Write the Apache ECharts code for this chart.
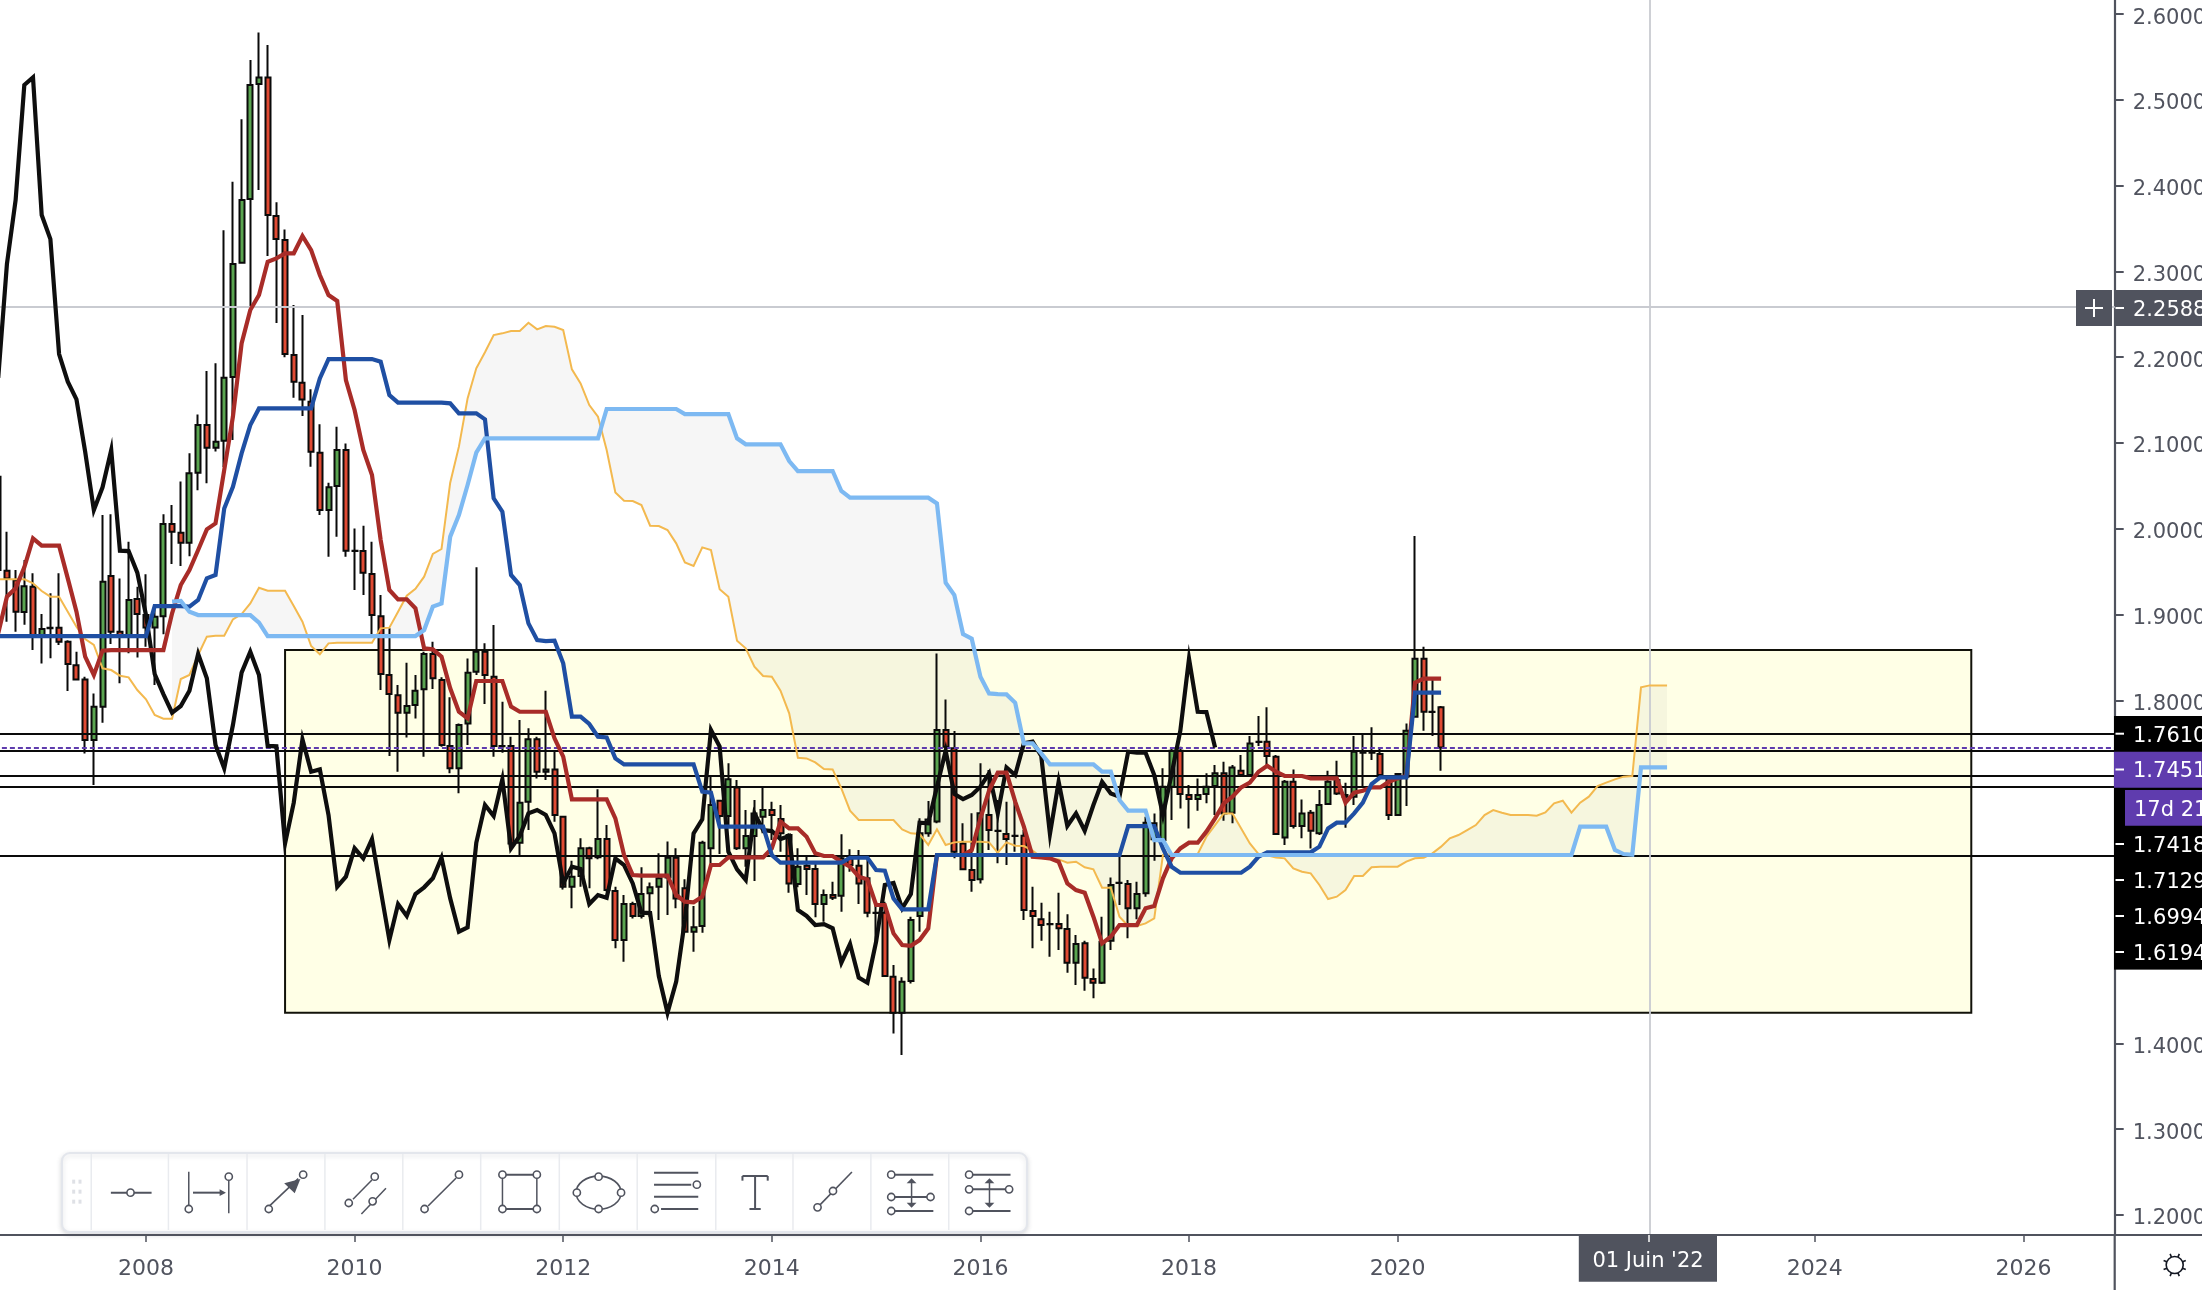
<!DOCTYPE html>
<html><head><meta charset="utf-8">
<style>html,body{margin:0;padding:0;background:#fff}#c{width:2202px;height:1290px}</style>
<script src="https://cdn.jsdelivr.net/npm/echarts@6/dist/echarts.min.js"></script>
</head><body><div id="c"></div>
<script>
// Monthly bars: first bar = Aug 2006, last bar = Jun 2020; axis runs on to Mar 2026 region
const firstYear = 2006, firstMonth = 8, categoryCount = 244;
const xTickYears = ['2008','2010','2012','2014','2016','2018','2020','2024','2026'];
const yTickValues = [2.6,2.5,2.4,2.3,2.2,2.1,2.0,1.9,1.8,1.4,1.3,1.2];
const candleOpen = [2.0607,1.951,1.94,1.903,1.9325,1.875,1.8847,1.8847,1.8684,1.841,1.8244,1.7537,1.7926,1.945,1.88,1.874,1.918,
1.8994,1.885,1.898,2.0055,1.9954,1.9838,2.0653,2.121,2.0945,2.1026,2.177,2.31,2.3844,2.5184,2.5262,2.3645,2.3366,2.2025,2.1702,2.148,
2.0886,2.0218,2.0498,2.0917,1.9744,1.974,1.9472,1.898,1.8295,1.806,1.7856,1.7945,1.8128,1.854,1.8237,1.7468,1.7207,1.7731,1.8334,1.8567,
1.8275,1.7468,1.7468,1.634,1.6818,1.7545,1.7168,1.7195,
1.6643,1.5827,1.5952,1.6275,1.617,1.6383,1.5777,1.5206,1.5625,1.5486,
1.575,1.5827,1.5936,1.6166,1.5808,1.5303,1.5369,1.6275,1.683,1.6651,
1.6985,1.6275,1.6418,1.6643,1.6721,1.6616,1.643,1.5858,1.6072,1.6033,
1.5625,1.573,1.5723,1.6158,1.6072,1.5925,1.5525,1.5525,1.4778,1.4358,
1.4727,1.5486,1.6449,1.6586,1.7654,1.744,1.6332,1.6022,1.5914,1.6663,
1.648,1.6441,1.6422,1.6422,1.5544,1.5447,1.5393,1.5393,1.5334,1.4941,
1.5167,1.4751,1.4708,1.5198,1.5874,1.5859,1.5575,1.575,1.6379,1.6371,
1.6993,1.7413,1.6896,1.6849,1.6908,1.7001,1.7149,1.669,1.718,1.7129,
1.7514,1.7518,1.7343,1.6402,1.7051,1.6535,1.669,1.6449,1.6791,1.7071,
1.6896,1.6877,1.7393,1.7393,1.7374,1.711,1.6663,1.711,1.7809,1.8485,
1.7867,1.7918];
const candleClose = [1.952,1.942,1.9033,1.933,1.876,1.883,1.884,1.8684,1.8423,1.8244,1.7537,1.7926,1.9383,1.88,1.874,1.917,1.9006,
1.885,1.8975,2.0055,1.9965,1.9838,2.0646,2.121,2.0945,2.1015,2.176,2.3086,2.3832,2.5173,2.5262,2.3657,2.3377,2.2037,2.1714,2.1508,2.0899,
2.0218,2.0483,2.0917,1.9744,1.974,1.9488,1.8994,1.8307,1.8073,1.7856,1.7934,1.8112,1.854,1.8256,1.7479,1.7207,1.7712,1.8322,1.8567,1.8295,
1.7468,1.7464,1.6332,1.6807,1.7545,1.7168,1.7195,1.6663,
1.5827,1.5944,1.6275,1.6158,1.6383,1.5789,1.5206,1.5625,1.5486,1.5742,
1.582,1.5925,1.6166,1.5691,1.5303,1.5354,1.634,1.678,1.6651,1.7079,
1.6275,1.6418,1.6682,1.6721,1.6663,1.6449,1.5866,1.6061,1.6033,1.5625,
1.573,1.5699,1.6158,1.608,1.5866,1.5525,1.552,1.4786,1.4358,1.472,
1.5439,1.6449,1.6612,1.7654,1.746,1.6236,1.603,1.5906,1.6683,1.6488,
1.6476,1.6383,1.6418,1.5556,1.5486,1.5381,1.539,1.5342,1.4941,1.5159,
1.4767,1.4708,1.5186,1.5847,1.587,1.5575,1.5742,1.6574,1.6566,1.6993,
1.7413,1.6908,1.6849,1.6896,1.6993,1.7149,1.6682,1.7218,1.7129,1.7498,
1.7518,1.7351,1.6441,1.7051,1.6535,1.6682,1.648,1.678,1.7051,1.6915,
1.6877,1.7401,1.7389,1.739,1.7129,1.6663,1.7141,1.7646,1.8485,1.7867,
1.7863,1.7451];
const candleLow = [1.95,1.8917,1.88,1.888,1.8586,1.843,1.849,1.8645,1.811,1.823,1.738,1.7013,1.774,1.8656,1.82,1.855,1.85,
1.8625,1.818,1.877,1.959,1.9566,1.968,2.045,2.053,2.09,2.072,2.1034,2.309,2.255,2.395,2.3179,2.24,2.1998,2.1528,2.1314,2.0723,
2.016,1.9674,1.9907,1.9674,1.9286,1.9227,1.877,1.812,1.7351,1.7168,1.7568,1.7789,1.7343,1.8132,1.746,1.7149,1.6916,1.748,1.8295,1.7957,
1.7343,1.739,1.6332,1.6196,1.6488,1.709,1.707,1.6585,
1.5796,1.5575,1.5827,1.5808,1.6147,1.577,1.5109,1.4953,1.5458,1.5458,
1.5478,1.5439,1.5498,1.5575,1.5291,1.507,1.5291,1.61,1.6209,1.6527,
1.6255,1.6061,1.5893,1.6449,1.6372,1.6236,1.5758,1.582,1.573,1.547,
1.5419,1.5672,1.5536,1.6002,1.5625,1.547,1.5128,1.478,1.4117,1.3865,
1.47,1.5303,1.641,1.6566,1.744,1.6158,1.6022,1.5769,1.5866,1.6255,
1.61,1.608,1.6236,1.5439,1.5109,1.5198,1.5012,1.5089,1.4825,1.4681,
1.4615,1.4526,1.4693,1.5089,1.5614,1.5225,1.5447,1.5711,1.6131,1.6364,
1.6605,1.674,1.6507,1.6713,1.6799,1.6663,1.6597,1.6566,1.711,1.711,
1.7467,1.7246,1.644,1.6313,1.6507,1.6391,1.6274,1.643,1.678,1.6896,
1.6515,1.678,1.6985,1.7304,1.711,1.6605,1.6651,1.6767,1.7801,1.7646,
1.7584,1.7179];
const candleHigh = [2.0607,1.9966,1.952,1.9636,1.948,1.9006,1.9247,1.948,1.87,1.8567,1.8276,1.808,2.016,2.017,1.942,1.985,1.9325,
1.947,1.911,2.017,2.0277,2.055,2.088,2.1333,2.1838,2.1928,2.348,2.4046,2.4773,2.5464,2.5786,2.5639,2.3805,2.349,2.2608,2.2492,2.1625,
2.1217,2.0537,2.119,2.0995,2.0004,2.0035,1.985,1.9227,1.8839,1.8178,1.8439,1.8295,1.8567,1.8684,1.8268,1.8035,1.7731,1.8489,1.955,1.8664,
1.8878,1.7984,1.7576,1.777,1.7673,1.7576,1.8112,1.7401,
1.665,1.6131,1.6392,1.6294,1.6962,1.6546,1.5827,1.573,1.5653,1.6053,
1.5875,1.6217,1.6353,1.6275,1.5913,1.5602,1.6364,1.711,1.6838,1.7265,
1.707,1.6721,1.6838,1.6985,1.6818,1.678,1.6449,1.6275,1.6178,1.6119,
1.5796,1.5886,1.6438,1.6263,1.6255,1.617,1.5614,1.5653,1.4914,1.4771,
1.5478,1.6624,1.6826,1.8547,1.8011,1.7642,1.6566,1.6683,1.7265,1.7187,
1.6838,1.6818,1.6838,1.6488,1.5827,1.5641,1.5536,1.5758,1.5505,1.5264,
1.5198,1.4875,1.5477,1.5936,1.6176,1.5905,1.5885,1.6643,1.6682,1.7207,
1.744,1.746,1.7012,1.709,1.7149,1.7246,1.7285,1.7246,1.7362,1.7584,
1.7817,1.7918,1.7362,1.7071,1.7195,1.6845,1.6721,1.6954,1.718,1.7296,
1.704,1.7584,1.7596,1.7685,1.744,1.7129,1.7149,1.7731,1.9915,1.8625,
1.8237,1.7934];
// Black lagging line: bars 0 .. 140
const laggingLine = [2.176,2.3086,2.3832,2.5173,2.5262,2.3657,2.3377,2.2037,2.1714,2.1508,2.0899,
2.0218,2.0483,2.0917,1.9744,1.974,1.9488,1.8994,1.8307,1.8073,1.7856,1.7934,1.8112,1.854,1.8256,1.7479,1.7207,1.7712,1.8322,1.8567,1.8295,
1.7468,1.7464,1.6332,1.6807,1.7545,1.7168,1.7195,1.6663,
1.5827,1.5944,1.6275,1.6158,1.6383,1.5789,1.5206,1.5625,1.5486,1.5742,
1.582,1.5925,1.6166,1.5691,1.5303,1.5354,1.634,1.678,1.6651,1.7079,
1.6275,1.6418,1.6682,1.6721,1.6663,1.6449,1.5866,1.6061,1.6033,1.5625,
1.573,1.5699,1.6158,1.608,1.5866,1.5525,1.552,1.4786,1.4358,1.472,
1.5439,1.6449,1.6612,1.7654,1.746,1.6236,1.603,1.5906,1.6683,1.6488,
1.6476,1.6383,1.6418,1.5556,1.5486,1.5381,1.539,1.5342,1.4941,1.5159,
1.4767,1.4708,1.5186,1.5847,1.587,1.5575,1.5742,1.6574,1.6566,1.6993,
1.7413,1.6908,1.6849,1.6896,1.6993,1.7149,1.6682,1.7218,1.7129,1.7498,
1.7518,1.7351,1.6441,1.7051,1.6535,1.6682,1.648,1.678,1.7051,1.6915,
1.6877,1.7401,1.7389,1.739,1.7129,1.6663,1.7141,1.7646,1.8485,1.7867,
1.7863,1.7451];
// Red conversion line: bars 0 .. 166
const conversionLine = [1.8781,1.9208,1.9305,1.955,1.9888,1.9803,1.9803,1.9803,1.9422,1.9033,1.8509,1.8295,1.8579,
1.8586,1.8586,1.8586,1.8586,1.8586,1.8586,1.8586,1.9014,1.9344,1.9519,1.9752,1.9993,2.0063,2.0685,2.1307,2.2161,2.255,2.2725,2.3113,2.3152,
2.3211,2.3211,2.3413,2.3249,2.2958,2.2725,2.2655,2.1734,2.1384,2.0918,2.0626,1.9868,1.9286,1.9177,1.9177,1.9072,1.8606,1.8594,1.8509,1.814,
1.7867,1.779,1.8225,1.8225,1.8225,1.8225,1.7926,1.7867,1.7867,1.7867,1.7867,1.7557,1.7343,1.6846,1.6846,1.6846,1.6846,1.6846,1.6624,1.6197,
1.5963,1.5956,1.5956,1.5956,1.5956,1.573,1.5653,1.5645,1.5711,1.608,1.608,1.6169,1.6169,1.6169,1.6169,1.6169,1.6274,1.6585,1.6507,1.6507,
1.641,1.6216,1.6185,1.6185,1.6119,1.606,1.5944,1.5913,1.5614,1.5614,1.5283,1.5147,1.5139,1.5205,1.5342,1.6197,1.6197,1.6197,1.6197,1.6255,
1.6624,1.6947,1.7156,1.7156,1.6818,1.6527,1.6177,1.6169,1.6158,1.6119,1.5866,1.5788,1.5757,1.5478,1.5167,1.5245,1.538,1.538,1.538,1.5575,
1.5602,1.5925,1.6158,1.6274,1.634,1.634,1.6469,1.6624,1.6799,1.6877,1.6985,1.704,1.7168,1.7238,1.7168,1.7118,1.7118,1.7118,1.709,1.709,
1.709,1.709,1.6807,1.6923,1.6946,1.6985,1.6985,1.7051,1.709,1.7118,1.8206,1.8252,1.8252,1.8252];
// Blue base line: bars 0 .. 166
const baseLine = [1.8749,1.8749,1.8749,1.8749,1.8749,1.8749,1.8749,1.8749,1.8749,1.8749,1.8749,1.8749,1.8749,1.8749,1.8749,1.8749,1.8749,1.8749,
1.9099,1.9099,1.9099,1.9099,1.9092,1.9169,1.9422,1.9461,2.0237,2.049,2.0879,2.1209,2.1403,2.1403,2.1403,2.1403,2.1403,2.1403,2.1403,
2.1753,2.1978,2.1978,2.1978,2.1978,2.1978,2.1978,2.1947,2.1559,2.147,2.147,2.147,2.147,2.147,2.147,2.1462,2.1345,2.1345,2.1345,2.1275,
2.0354,2.0199,1.9461,1.9344,1.8897,1.8703,1.8691,1.8695,1.8431,1.781,1.781,1.7724,1.7576,1.7568,1.7323,
1.7253,1.7253,1.7253,1.7253,1.7253,1.7253,1.7253,1.7253,1.7253,1.6935,1.6923,1.6527,1.6527,1.6527,1.6527,1.6527,1.6527,1.6197,
1.6107,1.6107,1.6107,1.6107,1.6107,1.6107,1.6107,1.6107,1.6165,1.6165,1.6165,1.6022,1.6014,1.5691,1.5563,1.5563,1.5563,1.5563,1.6197,
1.6197,1.6197,1.6197,1.6197,1.6197,1.6197,1.6197,1.6197,1.6197,1.6197,1.6197,1.6197,1.6197,1.6197,1.6197,1.6197,1.6197,1.6197,1.6197,1.6197,1.6197,
1.6534,1.6534,1.6534,1.6534,1.6274,1.606,1.599,1.599,1.599,1.599,1.599,1.599,1.599,1.599,1.606,1.6177,1.6228,1.6228,1.6228,1.6228,1.6228,1.6228,
1.6294,1.6507,1.6574,1.6574,1.6682,1.6807,1.7024,1.7102,1.7102,1.7102,1.7102,1.8089,1.8089,1.8089,1.8089];
// Light blue cloud edge: starts at bar 20, runs 26 bars beyond the last candle
const cloudEdgeBlue = [1.915,1.9158,1.9033,1.8994,1.8994,1.8994,1.8994,1.8994,1.8994,1.8994,1.8905,
1.8749,1.8749,1.8749,1.8749,1.8749,1.8749,1.8749,1.8749,1.8749,1.8749,1.8749,1.8749,1.8749,1.8749,1.8749,1.8749,1.8749,1.8749,
1.8819,1.9092,1.913,1.9908,2.0159,2.051,2.0887,
2.1054,2.1054,2.1054,2.1054,2.1054,2.1054,2.1054,2.1054,2.1054,2.1054,2.1054,2.1054,2.1054,2.1054,
2.1396,2.1396,2.1396,2.1396,2.1396,2.1396,2.1396,2.1396,2.1396,
2.1337,2.1337,2.1337,2.1337,2.1337,2.1337,2.1054,2.0984,2.0984,2.0984,2.0984,2.0984,2.0789,
2.0673,2.0673,2.0673,2.0673,2.0673,2.044,2.0362,2.0362,2.0362,2.0362,2.0362,2.0362,2.0362,2.0362,2.0362,2.0362,
2.0296,1.9371,1.9227,1.8773,1.8718,1.8276,1.8081,1.8073,1.8069,1.7972,1.7498,1.7498,1.7382,
1.7253,1.7253,1.7253,1.7253,1.7253,1.7253,1.7168,1.7168,1.6838,1.6713,1.6713,1.6713,1.6371,1.6371,
1.6197,1.6197,1.6197,1.6197,1.6197,1.6197,1.6197,1.6197,1.6197,1.6197,1.6197,1.6197,1.6197,1.6197,1.6197,1.6197,1.6197,1.6197,1.6197,1.6197,
1.6197,1.6197,1.6197,1.6197,1.6197,1.6197,1.6197,1.6197,1.6197,1.6197,1.6197,1.6197,1.6197,1.6197,1.6197,1.6197,1.6197,1.6197,1.6197,1.6197,
1.6197,1.6197,1.6197,1.6197,1.6197,1.6197,1.6197,
1.6527,1.6527,1.6527,1.6527,1.6255,1.6208,1.62,1.7219,1.7219,1.7219,1.7219];
// Orange cloud edge: bars 0 .. 192
const cloudEdgeOrange = [1.941,1.941,1.941,1.941,1.9364,1.9274,1.9208,1.9208,1.9033,1.8858,1.8715,1.8645,1.8373,1.8353,1.8287,1.8268,1.812,
1.8011,1.7829,1.7786,1.7786,1.8248,1.8295,1.8528,1.8742,1.8753,1.8753,1.8944,1.9006,1.913,1.9313,1.9278,1.9278,1.9278,1.9099,1.8917,1.8633,
1.8536,1.8664,1.8672,1.8672,1.8672,1.8672,1.8672,1.8839,1.8847,1.9033,1.922,1.9301,1.9441,1.9706,1.9764,2.0537,2.0957,2.152,2.187,2.2057,
2.2258,2.2278,2.2305,2.2305,2.2402,2.2324,2.2363,2.2355,2.2316,2.1858,2.1695,2.1442,2.1306,2.0918,2.0424,2.0327,2.0323,2.0276,
2.0036,2.0032,1.9985,1.983,1.9608,1.9566,1.9783,1.9752,1.9294,1.9208,1.8695,1.8606,1.8392,1.8283,1.8276,1.8112,
1.7848,1.7331,1.7323,1.7277,1.7199,1.7195,1.6974,1.6714,1.6605,1.6605,1.6605,1.6605,1.6605,1.6496,1.6449,1.6441,1.6314,1.6496,1.6314,1.6344,
1.6352,1.6352,1.6352,1.6344,1.6224,1.6344,1.6305,1.6301,1.6247,1.6169,1.6154,1.6146,1.6107,1.6119,1.6053,1.603,1.5815,1.5815,1.5478,1.5369,
1.5369,1.54,1.5458,1.6197,1.6208,1.6197,1.6208,1.6208,1.641,1.6546,1.6682,1.6682,1.6507,1.6332,1.6208,1.6193,1.6169,1.6158,1.6041,1.6002,
1.5983,1.5847,1.5684,1.5711,1.5789,1.5952,1.5952,1.6053,1.606,1.606,1.606,1.6119,1.6158,1.6166,1.6216,1.6294,1.6391,1.643,1.6488,1.6546,
1.6663,1.6721,1.669,1.6663,1.6663,1.6663,1.6655,1.6694,1.6799,1.683,1.669,1.6807,1.6877,1.7001,1.704,1.7079,1.711,1.7118,1.8151,1.8174,1.8174,1.8174];
const cloudBlueStart = 20;
const laggingLen = 141, barLen = 167, cloudEnd = 193;
const levelLines = [1.7611,1.7409,1.7121,1.6993,1.6188];
const lastPrice = 1.7451;
const crossPrice = 2.2588, crossPriceLabel = '2.2588';
const crossDate = "2022-06", crossDateLabel = "01 Juin '22";
const boxTop = 1.8586, boxBottom = 1.4358, boxStart = '2009-05', boxEndIndex = 226.8;
const priceTags = [['1.7610',733.7],['1.7418',844],['1.7129',880],['1.6994',916],['1.6194',952]];

const check=(n,a,l)=>{ if(a.length!==l) throw new Error(n+' length '+a.length+' expected '+l); };
check('open',candleOpen,barLen);check('close',candleClose,barLen);check('low',candleLow,barLen);check('high',candleHigh,barLen);
check('lag',laggingLine,laggingLen);check('conv',conversionLine,barLen);check('base',baseLine,barLen);
check('orange',cloudEdgeOrange,cloudEnd);check('blue',cloudEdgeBlue,cloudEnd-cloudBlueStart);

const categories=[];
for(let k=0,y=firstYear,m=firstMonth;k<categoryCount;k++){categories.push(y+'-'+String(m).padStart(2,'0'));m++;if(m>12){m=1;y++;}}
const candles=candleOpen.map((o,k)=>[o,candleClose[k],candleLow[k],candleHigh[k]]);
const pad=(start,arr)=>{const r=new Array(start).fill(null);return r.concat(arr);};
const blueFull=pad(cloudBlueStart,cloudEdgeBlue);

const FONT='"DejaVu Sans", sans-serif';
const AX='#50535e';
const isTick=(idx,val)=>val.endsWith('-01')&&xTickYears.includes(val.slice(0,4));

const lineS=(name,data,color,width,z,extra)=>Object.assign({type:'line',name,data,showSymbol:false,symbol:'none',silent:true,z,
  animation:false,lineStyle:{color,width,join:'miter',miterLimit:12,cap:'butt'}},extra||{});

/* ---- UI graphic (toolbar, tags) ---- */
const zx=z=>z/1.425, zy=z=>1130+z/3;
const uiEls=[];
const L=(a,b,c,d,w)=>uiEls.push({type:'line',silent:true,z:200,shape:{x1:zx(a),y1:zy(b),x2:zx(c),y2:zy(d)},style:{stroke:AX,lineWidth:w||2}});
const P=(a,b)=>uiEls.push({type:'circle',silent:true,z:201,shape:{cx:zx(a),cy:zy(b),r:3.6},style:{fill:'#fff',stroke:AX,lineWidth:1.6}});
const ARR=(pts)=>uiEls.push({type:'polygon',silent:true,z:201,shape:{points:pts.map(p=>[zx(p[0]),zy(p[1])])},style:{fill:AX}});
uiEls.push({type:'rect',silent:true,z:199,shape:{x:62,y:1153,width:965,height:79,r:8},style:{fill:'#fff',stroke:'#e3e6ec',lineWidth:2,shadowColor:'rgba(80,83,94,0.18)',shadowBlur:5,shadowOffsetY:2}});
[130,240,352,463,574,685,797,908,1020,1130,1241,1352].forEach(z=>uiEls.push({type:'line',silent:true,z:200,shape:{x1:zx(z),y1:1154,x2:zx(z),y2:1230},style:{stroke:'#e9ebef',lineWidth:1.5}}));
[155,185,215].forEach(y=>[105,114].forEach(x=>uiEls.push({type:'rect',silent:true,z:200,shape:{x:zx(x)-1.5,y:zy(y)-2,width:3,height:4},style:{fill:'#dfe1e6'}})));
L(158,188,216,188);P(186,188);
L(269,125,269,228,1.5);P(269,237);L(326,150,326,250,1.5);P(326,140);L(275,188,316,188);ARR([[322,188],[313,178],[313,198]]);
L(383,230,425,146,1.6);P(383,237);P(432,134);ARR([[428,147],[405,160],[420,190]]);
L(503,208,530,150,1.5);L(515,252,550,175,1.5);P(534,140);P(497,219);P(531,214);
L(610,228,650,144,1.6);P(605,237);P(654,134);
L(716,134,765,134);L(716,237,765,237);L(716,134,716,237,1.5);L(765,134,765,237,1.5);P(716,134);P(765,134);P(716,237);P(765,237);
uiEls.push({type:'ellipse',silent:true,z:200,shape:{cx:zx(853),cy:zy(188),rx:22.5,ry:16.5},style:{fill:'none',stroke:AX,lineWidth:1.6}});P(853,140);P(822,188);P(885,188);P(853,237);
L(932,128,995,128);L(932,164,985,164);P(993,164);L(932,200,995,200);L(942,237,995,237);P(933,237);
L(1058,152,1058,138);L(1058,138,1094,138);L(1094,138,1094,152);L(1076,138,1076,237);L(1068,237,1084,237);
L(1165,232,1214,126,1.6);P(1165,232);P(1187,183);
L(1270,134,1330,134);P(1270,134);L(1270,201,1325,201);P(1270,201);P(1326,201);L(1270,243,1330,243);P(1270,243);L(1299,152,1299,226,1.5);ARR([[1299,145],[1292,160],[1306,160]]);ARR([[1299,233],[1292,218],[1306,218]]);
L(1381,134,1440,134);P(1381,134);L(1381,178,1438,178);P(1381,178);P(1438,178);L(1381,243,1440,243);P(1381,243);L(1410,152,1410,226,1.5);ARR([[1410,145],[1403,160],[1417,160]]);ARR([[1410,233],[1403,218],[1417,218]]);

const tagEls=[];
const T=(x,y,w,h,fill)=>tagEls.push({type:'rect',silent:true,z:210,shape:{x,y,width:w,height:h},style:{fill}});
const TX=(s,x,y,o)=>tagEls.push({type:'text',silent:true,z:212,style:Object.assign({text:s,x,y:y+2.5,fill:'#fff',font:'21px '+FONT,verticalAlign:'middle',align:'left'},o||{})});
const TK=(y,color)=>tagEls.push({type:'line',silent:true,z:211,shape:{x1:2115.5,y1:y,x2:2124,y2:y},style:{stroke:color||'#fff',lineWidth:2}});
T(2114,716,88,253.5,'#000');
T(2114,751.7,88,36,'#5f3cae');
T(2125,790,77,36,'#5f3cae');
tagEls.push({type:'rect',silent:true,z:209,shape:{x:2114,y:787.7,width:88,height:38},style:{fill:'#fff'}});
T(2114,825.7,88,143.6,'#000');
priceTags.forEach(([s,y])=>{TX(s,2133,y);TK(y);});
TX(lastPrice.toFixed(4),2133,769.5);TK(769.5);
TX('17d 21',2134,808);
// crosshair tags
T(2076,290,36,36,AX);T(2115,290,87,36,AX);
tagEls.push({type:'line',silent:true,z:212,shape:{x1:2085,y1:308,x2:2103,y2:308},style:{stroke:'#fff',lineWidth:2}});
tagEls.push({type:'line',silent:true,z:212,shape:{x1:2094,y1:299,x2:2094,y2:317},style:{stroke:'#fff',lineWidth:2}});
TX(crossPriceLabel,2133,308);TK(308,'#fff');
T(1578.8,1235,138.2,46.7,AX);
TX(crossDateLabel,1648,1259,{align:'center',font:'21px '+FONT});
tagEls.push({type:'line',silent:true,z:212,shape:{x1:1649,y1:1235,x2:1649,y2:1242},style:{stroke:'#fff',lineWidth:1.5}});
// frame continuation & gear
const FR=(a,b,c,d)=>tagEls.push({type:'line',silent:true,z:205,shape:{x1:a,y1:b,x2:c,y2:d},style:{stroke:AX,lineWidth:2.2}});
FR(2114.7,1235,2114.7,1290);FR(2114.7,1235,2202,1235);FR(0,1235,2114.7,1235);
tagEls.push({type:'circle',silent:true,z:205,shape:{cx:2174.7,cy:1265,r:8.5},style:{fill:'none',stroke:'#131722',lineWidth:1.6}});
for(let a=0;a<8;a++){const t=a*Math.PI/4+Math.PI/8;tagEls.push({type:'line',silent:true,z:205,shape:{x1:2174.7+8.5*Math.cos(t),y1:1265+8.5*Math.sin(t),x2:2174.7+12*Math.cos(t),y2:1265+12*Math.sin(t)},style:{stroke:'#131722',lineWidth:1.6}});}

const chart=echarts.init(document.getElementById('c'),null,{renderer:'canvas',width:2202,height:1290});
chart.setOption({
  animation:false,backgroundColor:'#fff',
  grid:{left:-6.11,right:87.3,top:0,bottom:55,containLabel:false,outerBoundsMode:'none'},
  xAxis:{type:'category',data:categories,boundaryGap:true,
    axisLine:{show:false},
    axisTick:{show:true,length:7,alignWithLabel:true,interval:isTick,lineStyle:{color:AX,width:1.5}},
    axisLabel:{show:true,interval:isTick,margin:23,color:AX,fontFamily:FONT,fontSize:22,formatter:v=>v.slice(0,4)},
    splitLine:{show:false}},
  yAxis:{type:'value',position:'right',min:1.1767,max:2.6164,scale:true,
    axisLine:{show:true,lineStyle:{color:AX,width:2.2}},
    axisTick:{show:true,length:9,customValues:yTickValues,lineStyle:{color:AX,width:2}},
    axisLabel:{show:true,margin:18,color:AX,fontFamily:FONT,fontSize:21,verticalAlign:'top',lineHeight:8,customValues:yTickValues,formatter:v=>v.toFixed(4),hideOverlap:false,showMinLabel:true,showMaxLabel:true},
    splitLine:{show:false}},
  graphic:{elements:[...uiEls,...tagEls]},
  series:[
    {type:'line',name:'box',data:[],silent:true,z:1,
      markArea:{silent:true,z:1,itemStyle:{color:'#ffffe6',borderColor:'#12120a',borderWidth:2},
        data:[[{xAxis:boxStart,yAxis:boxTop},{xAxis:boxEndIndex,yAxis:boxBottom}]]}},
    {type:'custom',name:'cloud',z:2,silent:true,coordinateSystem:'cartesian2d',clip:true,
      data:blueFull.map((v,k)=>[k,v]),encode:{x:0,y:1},
      renderItem:(params,api)=>{
        if(params.dataIndex!==cloudBlueStart) return null;
        const up=[],dn=[];
        for(let k=cloudBlueStart;k<cloudEnd;k++){up.push(api.coord([k,cloudEdgeOrange[k]]));dn.push(api.coord([k,blueFull[k]]));}
        return {type:'polygon',shape:{points:up.concat(dn.reverse())},style:{fill:'rgba(35,35,35,0.038)'}};
      }},
    {type:'candlestick',name:'price',data:candles,z:3,silent:true,barWidth:5.5,
      itemStyle:{color:'#5aa550',color0:'#e04a33',borderColor:'#0a0a0a',borderColor0:'#0a0a0a',borderWidth:2}},
    {type:'line',name:'levels',data:[],silent:true,z:4,
      markLine:{silent:true,z:4,symbol:'none',animation:false,precision:4,label:{show:false},lineStyle:{color:'#0a0a0a',width:2,type:'solid'},
        data:levelLines.map(v=>({yAxis:v}))}},
    {type:'line',name:'last',data:[],silent:true,z:4,
      markLine:{silent:true,z:4,symbol:'none',animation:false,precision:4,label:{show:false},lineStyle:{color:'#5f3cae',width:2,type:[5,3]},
        data:[{yAxis:lastPrice}]}},
    {type:'line',name:'cross',data:[],silent:true,z:5,
      markLine:{silent:true,z:5,symbol:'none',animation:false,precision:4,label:{show:false},lineStyle:{color:'#c9cbd1',width:1.8,type:'solid'},
        data:[{yAxis:crossPrice},{xAxis:crossDate}]}},
    lineS('orange',cloudEdgeOrange,'#f3b94f',2,6),
    lineS('lagging',laggingLine,'#0e0e0e',4.2,7),
    lineS('conversion',conversionLine,'#a82c28',4.2,8),
    lineS('base',baseLine,'#1f4fa3',4.2,8),
    lineS('cloudBlue',blueFull,'#7db9f2',4.2,9)
  ]
});
</script></body></html>
